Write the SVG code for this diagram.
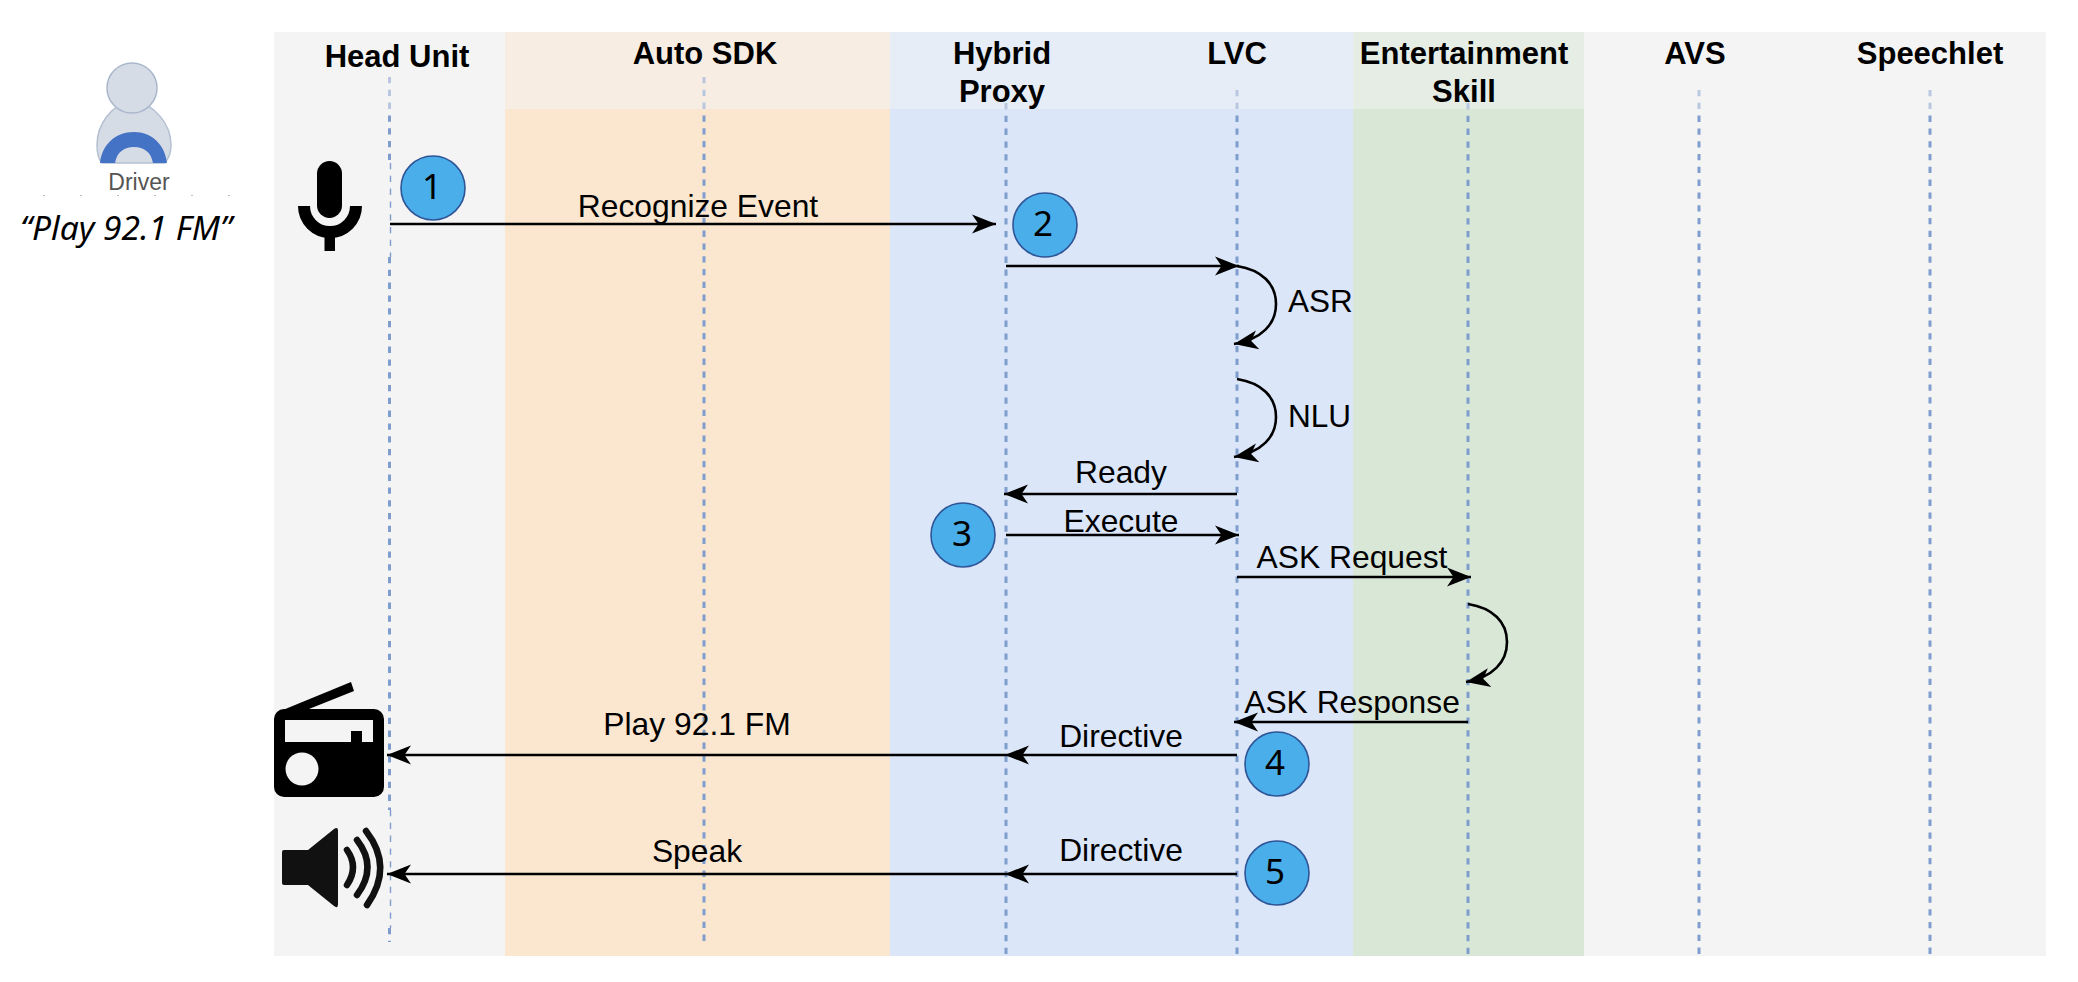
<svg xmlns="http://www.w3.org/2000/svg" width="2078" height="982" viewBox="0 0 2078 982">
<style>
text{font-family:"Liberation Sans",Arial,sans-serif;fill:#000}
.h{font-size:31px;font-weight:700;text-anchor:middle}
.l{font-size:31.8px;text-anchor:middle}
.s{font-size:31.5px}
.n{font-family:"Noto Sans","Liberation Sans",sans-serif;font-size:35px;text-anchor:middle}
.life{stroke:#7f9dcd;stroke-width:3;stroke-dasharray:6.300 6.500;fill:none}
.thin{stroke-width:1.4}
.ar{stroke:#000;stroke-width:2.6;fill:none;marker-end:url(#a)}
.c{fill:#49aeea;stroke:#2f5597;stroke-width:1.6}
</style>
<defs>
<marker id="a" markerUnits="userSpaceOnUse" markerWidth="26" markerHeight="22" refX="24" refY="10" orient="auto" overflow="visible">
<path d="M0,0.5 L24,10 L0,19.5 L6.5,10 Z" fill="#000"/>
</marker>
</defs>
<rect width="2078" height="982" fill="#fff"/>
<g id="lanes">
<rect x="274" y="32" width="231" height="924" fill="#f4f4f4"/>
<rect x="505" y="32" width="385" height="924" fill="#fbe6d0"/>
<rect x="890" y="32" width="463" height="924" fill="#dbe6f8"/>
<rect x="1353" y="32" width="231" height="924" fill="#d9e7d7"/>
<rect x="1584" y="32" width="462" height="924" fill="#f4f4f4"/>
</g>
<g id="lifelines">
<path class="life" d="M389.5,77V163"/>
<path class="life thin" d="M390.5,163V257"/>
<path class="life" d="M389.5,257V810"/>
<path class="life thin" d="M390.5,810V928"/>
<path class="life" d="M389.5,928V942"/>
<path class="life" d="M704,77V942"/>
<path class="life" d="M1006,103V956"/>
<path class="life" d="M1237,90V956"/>
<path class="life" d="M1468,103V956"/>
<path class="life" d="M1699,90V956"/>
<path class="life" d="M1930,90V956"/>
</g>
<rect id="header-band" x="274" y="32" width="1772" height="77" fill="#f4f4f4" fill-opacity=".5"/>
<g id="head-unit"><text class="h" x="397" y="67">Head Unit</text></g>
<g id="auto-sdk"><text class="h" x="705" y="64">Auto SDK</text></g>
<g id="hybrid-proxy"><text class="h" x="1002" y="64">Hybrid</text><text class="h" x="1002" y="102">Proxy</text></g>
<g id="lvc"><text class="h" x="1237" y="64">LVC</text></g>
<g id="entertainment-skill"><text class="h" x="1464" y="64">Entertainment</text><text class="h" x="1464" y="102">Skill</text></g>
<g id="avs"><text class="h" x="1695" y="64">AVS</text></g>
<g id="speechlet"><text class="h" x="1930" y="64">Speechlet</text></g>
<g id="driver">
<path d="M132,101C112,104 97,124 97,145C97,155 99,160 102,163H165C169,158 171,152 171,145C171,124 154,103 132,101Z" fill="#d6dce5" stroke="#b4c0d2" stroke-width="1.5"/>
<ellipse cx="132" cy="88" rx="25" ry="25" fill="#d6dce5" stroke="#a9b7cc" stroke-width="1.5"/>
<path d="M100,163C102,145 115,132 134,132C152,132 165,145 167,163H153C151,152 144,147 134,147C124,147 117,152 115,163Z" fill="#4472c4"/>
<text x="139" y="190" font-size="23" text-anchor="middle" style="fill:#555">Driver</text>
<path d="M43,195.500H250" stroke="#bbb" stroke-width="1.200" stroke-dasharray="2 35"/>
<text x="20" y="240" font-size="32" font-style="italic" textLength="212" lengthAdjust="spacingAndGlyphs" style="font-family:'Noto Sans','Liberation Sans',sans-serif">“Play 92.1 FM”</text>
</g>
<g id="mic">
<rect x="317" y="161" width="25" height="57" rx="12.5" fill="#000"/>
<path d="M304,206A26,26 0 0 0 356,206" fill="none" stroke="#000" stroke-width="12"/>
<rect x="324.500" y="234" width="10.500" height="17" fill="#000"/>
</g>
<g id="radio">
<path d="M278,712L351,682L354,691L309,709Z" fill="#000"/>
<rect x="274" y="709" width="110" height="88" rx="10" fill="#000"/>
<path d="M285,720H373V742H362V731H351V742H285Z" fill="#f4f4f4"/>
<circle cx="302" cy="769" r="16.500" fill="#f4f4f4"/>
</g>
<g id="speaker">
<path d="M284,850H308L334,829Q338,826 338,831V904Q338,909 334,906L308,885H284Q282,885 282,883V852Q282,850 284,850Z" fill="#111"/>
<path d="M347,850Q359,867 347,885M357,840Q378,867 357,895M366,831Q394,867 367,905" fill="none" stroke="#111" stroke-width="6.500" stroke-linecap="round"/>
</g>
<g id="connectors">
<path class="ar" d="M390,224H996"/>
<path class="ar" d="M1006,266H1239"/>
<path class="ar" d="M1237,266C1262,270 1276,284 1276,304C1276,324 1262,339 1234,344"/>
<path class="ar" d="M1237,379C1262,383 1276,397 1276,417C1276,437 1262,452 1234,457"/>
<path class="ar" d="M1237,494H1004"/>
<path class="ar" d="M1006,535H1239"/>
<path class="ar" d="M1237,577H1471"/>
<path class="ar" d="M1468,604C1493,608 1507,622 1507,642C1507,662 1493,677 1466,682"/>
<path class="ar" d="M1468,722H1234"/>
<path class="ar" d="M1237,755H1005"/>
<path class="ar" d="M1005,755H387"/>
<path class="ar" d="M1237,874H1005"/>
<path class="ar" d="M1005,874H387"/>
<g id="connector-labels">
<text class="l" x="698" y="217">Recognize Event</text>
<text class="s" x="1288" y="312">ASR</text>
<text class="s" x="1288" y="427">NLU</text>
<text class="l" x="1121" y="483">Ready</text>
<text class="l" x="1121" y="532">Execute</text>
<text class="l" x="1352" y="568">ASK Request</text>
<text class="l" x="1352" y="713">ASK Response</text>
<text class="l" x="1121" y="747">Directive</text>
<text class="l" x="1121" y="861">Directive</text>
<text class="l" x="697" y="735">Play 92.1 FM</text>
<text class="l" x="697" y="862">Speak</text>
</g>
</g>
<g id="step-1"><circle class="c" cx="433" cy="188" r="32"/><text class="n" x="432" y="199">1</text></g>
<g id="step-2"><circle class="c" cx="1045" cy="225" r="32"/><text class="n" x="1043" y="236">2</text></g>
<g id="step-3"><circle class="c" cx="963" cy="535" r="32"/><text class="n" x="962" y="546">3</text></g>
<g id="step-4"><circle class="c" cx="1277" cy="764" r="32"/><text class="n" x="1275" y="775">4</text></g>
<g id="step-5"><circle class="c" cx="1277" cy="873" r="32"/><text class="n" x="1275" y="884">5</text></g>
</svg>
